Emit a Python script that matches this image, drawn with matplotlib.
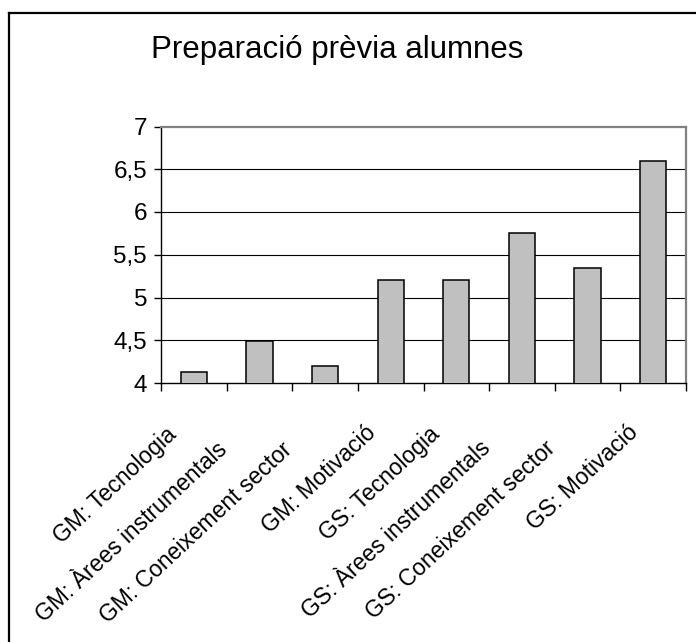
import math
import matplotlib
matplotlib.use("Agg")
import matplotlib.pyplot as plt
from matplotlib.lines import Line2D
from matplotlib.transforms import ScaledTranslation
from matplotlib.ticker import FuncFormatter, FixedLocator

plt.rcParams['font.family'] = ['Liberation Sans', 'DejaVu Sans']

categories = ["GM: Tecnologia", "GM: Àrees instrumentals", "GM: Coneixement sector",
              "GM: Motivació", "GS: Tecnologia", "GS: Àrees instrumentals",
              "GS: Coneixement sector", "GS: Motivació"]
values = [4.13, 4.49, 4.2, 5.2, 5.2, 5.75, 5.35, 6.6]
yticks = [4, 4.5, 5, 5.5, 6, 6.5, 7]
title = "Preparació prèvia alumnes"

W, H, DPI = 696, 642, 100
fig = plt.figure(figsize=(W / DPI, H / DPI), dpi=DPI)
fig.patch.set_facecolor('white')

# outer frame (left and top edges visible)
fig.add_artist(Line2D([9 / W, 9 / W], [0, 1 - 13 / H], color='black', lw=1.6,
                      transform=fig.transFigure, solid_capstyle='projecting'))
fig.add_artist(Line2D([9 / W, 1], [1 - 13 / H, 1 - 13 / H], color='black', lw=1.6,
                      transform=fig.transFigure, solid_capstyle='projecting'))

ax = fig.add_axes([161 / W, 1 - 383 / H, 525 / W, 256.5 / H])
x = list(range(len(categories)))
ax.bar(x, values, width=0.4, color='#C0C0C0', edgecolor='black', linewidth=1.1, zorder=3)

ax.set_xlim(-0.5, len(categories) - 0.5)
ax.set_ylim(yticks[0], yticks[-1])
ax.set_yticks(yticks)
ax.yaxis.set_major_formatter(FuncFormatter(lambda v, p: ('%g' % v).replace('.', ',')))
ax.tick_params(axis='y', direction='out', length=5, width=1, pad=5, labelsize=17.5, colors='black')

for yv in yticks[1:-1]:
    ax.axhline(yv, color='black', lw=0.8, zorder=1)

ax.set_xticks([])
ax.xaxis.set_minor_locator(FixedLocator([i - 0.5 for i in range(len(categories) + 1)]))
ax.tick_params(axis='x', which='minor', direction='out', length=6, width=1, labelbottom=False)

for side in ['left', 'bottom']:
    ax.spines[side].set_color('black')
    ax.spines[side].set_linewidth(1.0)
for side in ['top', 'right']:
    ax.spines[side].set_color('#808080')
    ax.spines[side].set_linewidth(1.6)

# rotated category labels
renderer = fig.canvas.get_renderer()
LABEL_FS = 16.5
ROT = 43
trans_base = ax.get_xaxis_transform()
c, s = math.cos(math.radians(ROT)), math.sin(math.radians(ROT))
for i, lab in enumerate(categories):
    tmp = fig.text(0, 0, lab, fontsize=LABEL_FS)
    w = tmp.get_window_extent(renderer).width
    tmp.remove()
    shift = 0.22 * w
    dx = 5 - shift * c
    dy = -(25 + shift * s)
    off = ScaledTranslation(dx / DPI, dy / DPI, fig.dpi_scale_trans)
    ax.text(i, 0, lab, rotation=ROT, rotation_mode='anchor', ha='right', va='center',
            fontsize=LABEL_FS, transform=trans_base + off)

fig.text(337.5 / W, 1 - 58 / H, title, ha='center', va='baseline', fontsize=22.5)

fig.savefig('out.png', dpi=DPI, facecolor='white')
